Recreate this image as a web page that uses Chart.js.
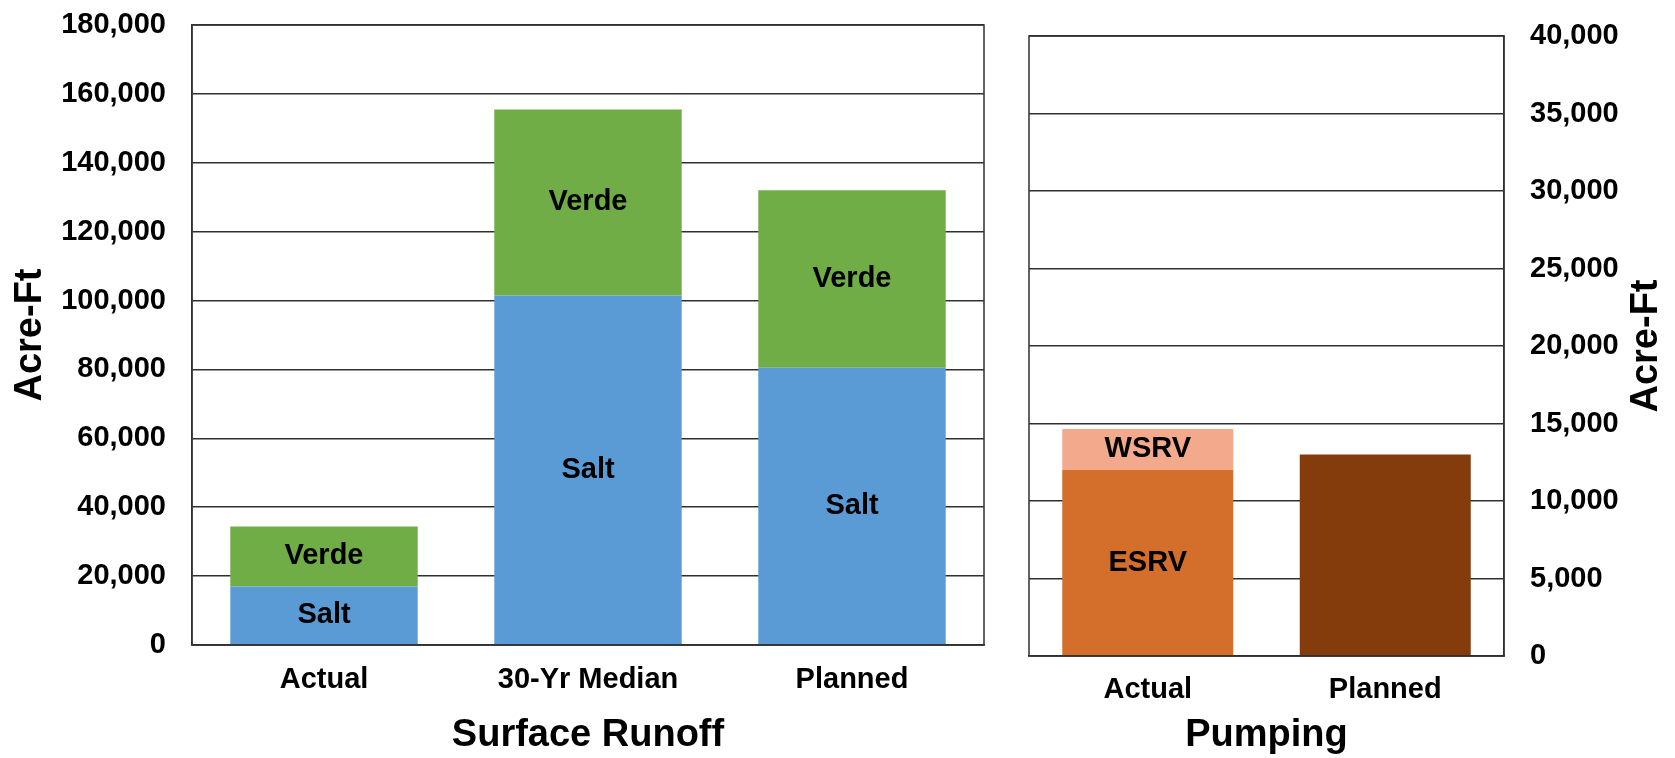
<!DOCTYPE html>
<html>
<head>
<meta charset="utf-8">
<script src="https://cdn.jsdelivr.net/npm/chart.js@4.4.0/dist/chart.umd.min.js"></script>
<style>
  body { margin: 0; background: #fff; }
  #runoff-wrap { position: absolute; left: 0; top: 0; }
  #pumping-wrap { position: absolute; left: 1000px; top: 0; }
</style>
</head>
<body>
<div id="runoff-wrap"><canvas id="runoff" width="1000" height="758"></canvas></div>
<div id="pumping-wrap"><canvas id="pumping" width="675" height="758"></canvas></div>
<script>
// Surface runoff (left chart)
const runoffCategories = ["Actual", "30-Yr Median", "Planned"];
const saltValues = [17000, 101500, 80500];
const verdeValues = [17400, 54000, 51500];
const runoffMax = 180000;
const runoffStep = 20000;

// Pumping (right chart)
const pumpingCategories = ["Actual", "Planned"];
const esrvValues = [12000, null];
const wsrvValues = [2650, null];
const plannedPumpingValues = [null, 13000];
const pumpingMax = 40000;
const pumpingStep = 5000;

const FONT = "'Liberation Sans', Arial, sans-serif";
const GRID = "#303030";
const tickFont = { family: FONT, size: 29, weight: "bold" };
const titleFont = { family: FONT, size: 38, weight: "bold" };

const formatNum = (v) => v.toLocaleString("en-US");

// pin an axis to a fixed size and drop its label overflow, so layout.padding alone sets the plot edges
const fixSize = (prop, size) => (scale) => {
  scale[prop] = size;
  scale.paddingTop = 0;
  scale.paddingBottom = 0;
  scale.paddingLeft = 0;
  scale.paddingRight = 0;
};

// frame round the plot area + the text inside the bars
const barText = {
  id: "barText",
  afterDatasetsDraw(chart) {
    const ctx = chart.ctx;
    const area = chart.chartArea;
    ctx.save();
    ctx.strokeStyle = GRID;
    ctx.lineWidth = 1.5;
    ctx.strokeRect(area.left, area.top, area.right - area.left, area.bottom - area.top);
    ctx.font = `bold 29px ${FONT}`;
    ctx.fillStyle = "#000";
    ctx.textAlign = "center";
    ctx.textBaseline = "middle";
    chart.data.datasets.forEach((ds, i) => {
      if (!ds.inlineLabel) return;
      chart.getDatasetMeta(i).data.forEach((bar, j) => {
        if (ds.data[j] == null) return;
        const { x, y, base } = bar.getProps(["x", "y", "base"], true);
        ctx.fillText(ds.label, x, (y + base) / 2);
      });
    });
    ctx.restore();
  },
};

// Chart.js turns a right-hand title top-to-bottom, the reference reads bottom-to-top
const rightTitle = {
  id: "rightTitle",
  afterDraw(chart) {
    const ctx = chart.ctx;
    const area = chart.chartArea;
    ctx.save();
    ctx.translate(647, (area.top + area.bottom) / 2);
    ctx.rotate(-Math.PI / 2);
    ctx.font = `bold 38px ${FONT}`;
    ctx.fillStyle = "#000";
    ctx.textAlign = "center";
    ctx.textBaseline = "middle";
    ctx.fillText("Acre-Ft", 0, 0);
    ctx.restore();
  },
};

const baseOptions = () => ({
  responsive: false,
  animation: false,
  plugins: { legend: { display: false }, tooltip: { enabled: false } },
});

const runoffChart = new Chart(document.getElementById("runoff"), {
  type: "bar",
  plugins: [barText],
  data: {
    labels: runoffCategories,
    datasets: [
      { label: "Salt", data: saltValues, backgroundColor: "#5B9BD5", inlineLabel: true,
        categoryPercentage: 0.71, barPercentage: 1 },
      { label: "Verde", data: verdeValues, backgroundColor: "#70AD47", inlineLabel: true,
        categoryPercentage: 0.71, barPercentage: 1 },
    ],
  },
  options: {
    ...baseOptions(),
    layout: { padding: { top: 25, right: 16, left: 0, bottom: 0 } },
    scales: {
      x: {
        stacked: true,
        grid: { display: false, drawTicks: false },
        border: { color: GRID, width: 1.5 },
        ticks: { color: "#000", font: tickFont, padding: 18 },
        title: { display: true, text: "Surface Runoff", color: "#000", font: titleFont,
          padding: { top: 0, bottom: 0 } },
        afterFit: fixSize("height", 113),
      },
      y: {
        stacked: true,
        min: 0,
        max: runoffMax,
        grid: { color: GRID, lineWidth: 1.5, drawTicks: false },
        border: { color: GRID, width: 1.5 },
        ticks: { stepSize: runoffStep, color: "#000", font: tickFont, padding: 26, callback: formatNum },
        title: { display: true, text: "Acre-Ft", color: "#000", font: titleFont,
          padding: { top: 8, bottom: 0 } },
        afterFit: fixSize("width", 192),
      },
    },
  },
});

const pumpingChart = new Chart(document.getElementById("pumping"), {
  type: "bar",
  plugins: [barText, rightTitle],
  data: {
    labels: pumpingCategories,
    datasets: [
      { label: "ESRV", data: esrvValues, backgroundColor: "#D46F2B", inlineLabel: true,
        categoryPercentage: 0.72, barPercentage: 1 },
      { label: "WSRV", data: wsrvValues, backgroundColor: "#F3AA8C", inlineLabel: true,
        categoryPercentage: 0.72, barPercentage: 1 },
      { label: "Planned", data: plannedPumpingValues, backgroundColor: "#843C0C",
        categoryPercentage: 0.72, barPercentage: 1 },
    ],
  },
  options: {
    ...baseOptions(),
    layout: { padding: { top: 36, right: 0, left: 29, bottom: 0 } },
    scales: {
      x: {
        stacked: true,
        grid: { display: false, drawTicks: false },
        border: { color: GRID, width: 1.5 },
        ticks: { color: "#000", font: tickFont, padding: 17 },
        title: { display: true, text: "Pumping", color: "#000", font: titleFont,
          padding: { top: 0, bottom: 0 } },
        afterFit: fixSize("height", 102),
      },
      y: {
        position: "right",
        stacked: true,
        min: 0,
        max: pumpingMax,
        grid: { color: GRID, lineWidth: 1.5, drawTicks: false },
        border: { color: GRID, width: 1.5 },
        ticks: { stepSize: pumpingStep, color: "#000", font: tickFont, padding: 26, callback: formatNum },
        afterFit: fixSize("width", 171),
      },
    },
  },
});
</script>
</body>
</html>
